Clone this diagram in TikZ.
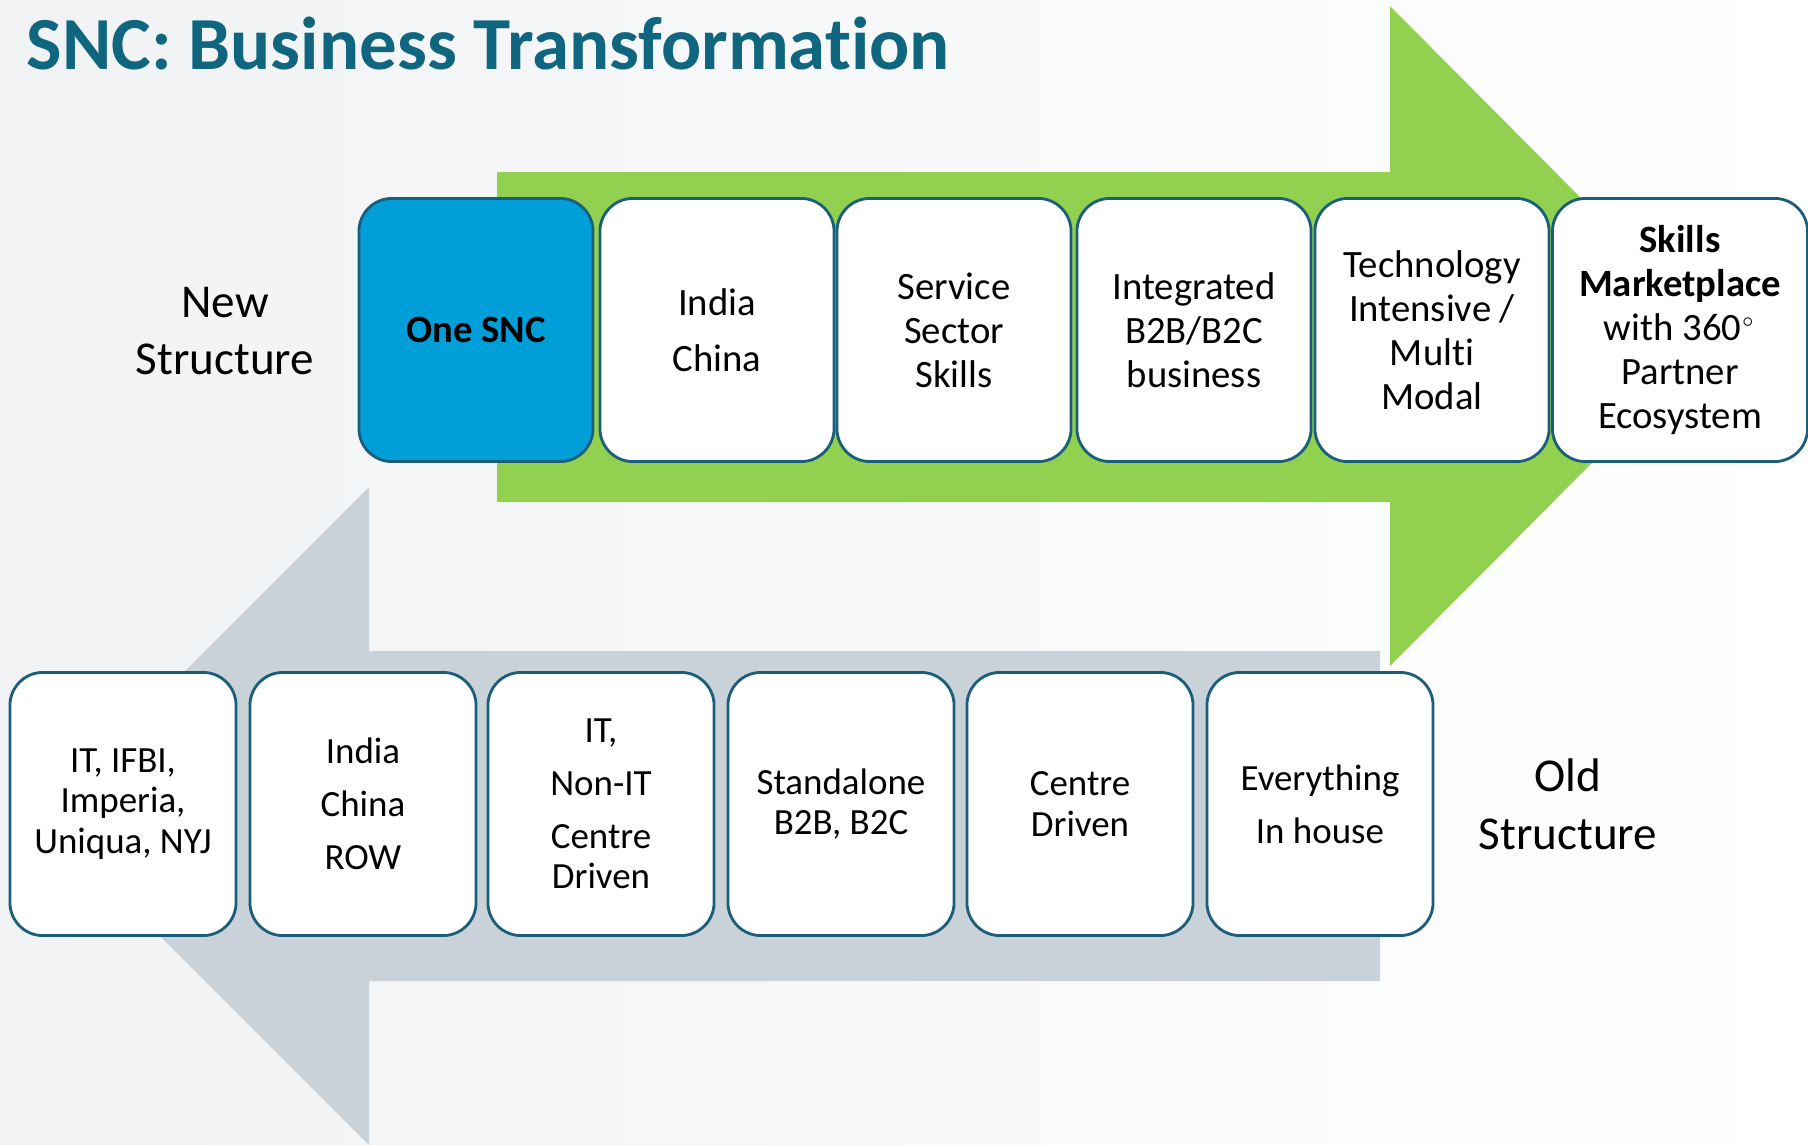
\documentclass[tikz,border=0pt]{standalone}
\usepackage{fontspec}
\setmainfont{Carlito}[Ligatures=NoCommon]
\definecolor{snctitle}{HTML}{10667F}
\definecolor{sncgreen}{HTML}{92D050}
\definecolor{sncgray}{HTML}{CAD2D9}
\definecolor{sncblue}{HTML}{009FD9}
\definecolor{sncline}{HTML}{1B5E7A}
\definecolor{sncback}{HTML}{F0F2F4}
\tikzset{
  newbox/.style={draw=sncline, line width=0.8pt, fill=white, rounded corners=0.33cm,
    minimum width=2.34cm, minimum height=2.63cm, inner sep=0pt, align=center,
    font=\fontsize{11}{12.5}\selectfont},
  oldbox/.style={newbox, minimum width=2.26cm, font=\fontsize{10.5}{11.5}\selectfont},
  sidelabel/.style={align=center, font=\fontsize{13.4}{16.4}\selectfont}
}
\begin{document}
\begin{tikzpicture}[x=0.01cm, y=-0.01cm]
    % Background
    \useasboundingbox (0,0) rectangle (1808,1145);
    \shade[left color=sncback, right color=white] (0,0) rectangle (1808,1145);

    % 1. The two big arrows
    \fill[sncgreen] (497,172) -- (1390,172) -- (1390,6) -- (1718,336)
        -- (1390,666) -- (1390,502) -- (497,502) -- cycle;
    \fill[sncgray] (1380,651) -- (369,651) -- (369,487) -- (40,816)
        -- (369,1145) -- (369,981) -- (1380,981) -- cycle;

    % 2. Title
    \node[anchor=base west, inner sep=0pt, text=snctitle, font=\fontsize{21.3}{25}\selectfont\bfseries]
        (title) at (26,69) {SNC: Business Transformation};

    % 3. New structure (top row)
    \node[newbox, fill=sncblue, font=\fontsize{11}{12.5}\selectfont\bfseries]
        (onesnc) at (476,330) {One SNC};
    \node[newbox] (india) at (717,330) {India\\[3.5pt]China};
    \node[newbox] (service) at (954,330) {Service\\Sector\\Skills};
    \node[newbox] (integrated) at (1194,330) {Integrated\\B2B/B2C\\business};
    \node[newbox] (technology) at (1432,330) {Technology\\Intensive /\\Multi\\Modal};
    \node[newbox, minimum width=2.55cm] (skills) at (1680,330)
        {\textbf{Skills}\\\textbf{Marketplace}\\with 360$^{\scriptscriptstyle\circ}$\\Partner\\Ecosystem};

    % 4. Old structure (bottom row)
    \node[oldbox] (groups) at (123,804) {IT, IFBI,\\Imperia,\\Uniqua, NYJ};
    \node[oldbox] (regions) at (363,804) {India\\[3.5pt]China\\[3.5pt]ROW};
    \node[oldbox] (sectors) at (601,804) {IT,\\[3.5pt]Non-IT\\[3.5pt]Centre\\Driven};
    \node[oldbox] (standalone) at (841,804) {Standalone\\B2B, B2C};
    \node[oldbox] (centre) at (1080,804) {Centre\\Driven};
    \node[oldbox] (inhouse) at (1320,804) {Everything\\[3.5pt]In house};

    % 5. Side labels
    \node[sidelabel] (newlabel) at (225,331) {New\\Structure};
    \node[sidelabel] (oldlabel) at (1568,804) {Old\\Structure};

\end{tikzpicture}
\end{document}
